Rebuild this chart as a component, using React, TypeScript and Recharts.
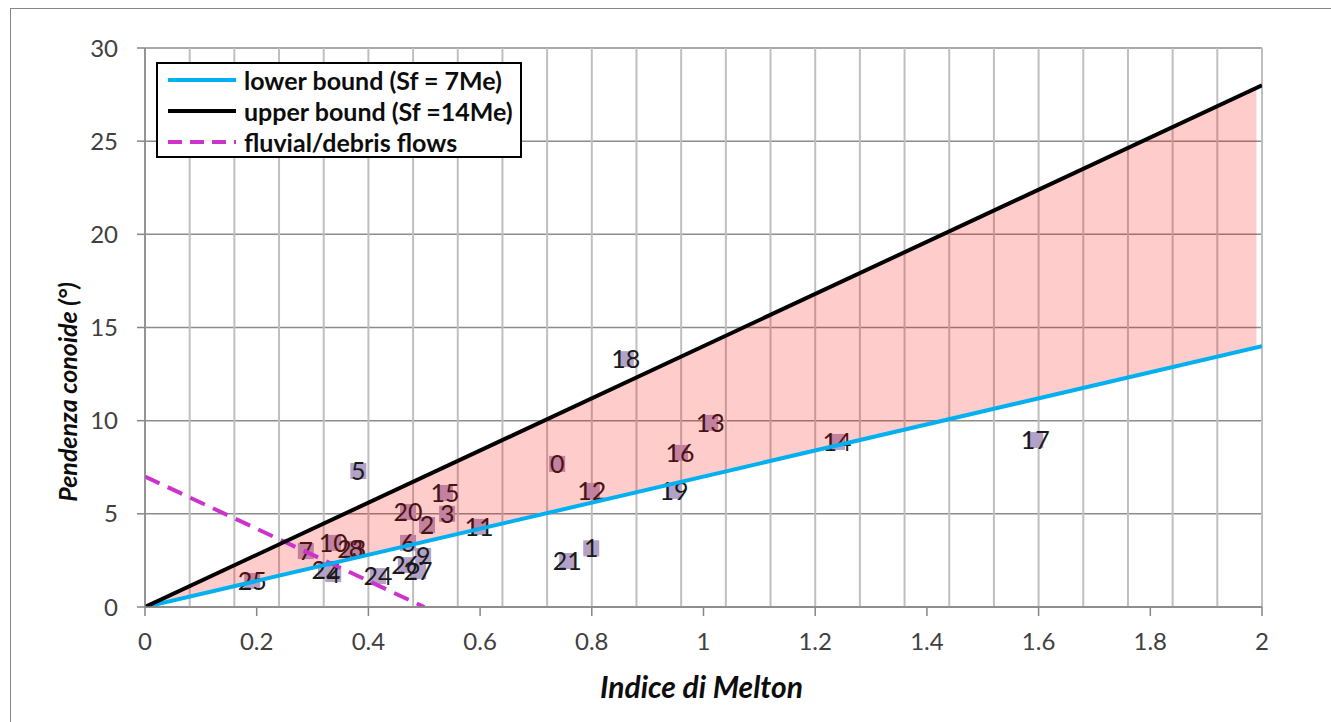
import React from "react";
import {
  ComposedChart,
  Area,
  Line,
  Scatter,
  XAxis,
  YAxis,
  CartesianGrid,
  Legend,
  LabelList,
  Label,
} from "recharts";

// Melton index (x) and fan slope in degrees (y) for each catchment
const siteIds = ["0", "1", "2", "3", "4", "5", "6", "7", "8", "9", "10", "11", "12", "13", "14", "15", "16", "17", "18", "19", "20", "21", "22", "23", "24", "25", "26", "27"];
const meltonIndex = [0.738, 0.799, 0.505, 0.541, 0.337, 0.382, 0.471, 0.288, 0.378, 0.498, 0.337, 0.598, 0.8, 1.012, 1.239, 0.537, 0.958, 1.594, 0.861, 0.947, 0.471, 0.756, 0.324, 0.37, 0.417, 0.192, 0.467, 0.489];
const fanSlope = [7.68, 3.15, 4.4, 5.0, 1.77, 7.3, 3.44, 3.0, 3.1, 2.74, 3.44, 4.3, 6.23, 9.88, 8.86, 6.12, 8.27, 8.96, 13.3, 6.23, 5.1, 2.47, 1.99, 3.1, 1.66, 1.4, 2.25, 1.93];

// bound lines (Sf = 7Me and Sf = 14Me) and the fluvial / debris flow divide
const boundX = [0, 2];
const lowerBound = [0, 14];
const upperBound = [0, 28];
const fluvialX = [0, 0.5];
const fluvialY = [7, 0];

// shaded band between the two bounds
const bandX = [0, 1.99];
const bandLow = [0, 13.93];
const bandHigh = [0, 27.86];

const xTicks = [0, 0.2, 0.4, 0.6, 0.8, 1, 1.2, 1.4, 1.6, 1.8, 2];
const yTicks = [0, 5, 10, 15, 20, 25, 30];
const minorStep = 0.04;

const points = siteIds.map((id, i) => ({ id, x: meltonIndex[i], y: fanSlope[i] }));
const lowerData = boundX.map((x, i) => ({ x, y: lowerBound[i] }));
const upperData = boundX.map((x, i) => ({ x, y: upperBound[i] }));
const fluvialData = fluvialX.map((x, i) => ({ x, y: fluvialY[i] }));
const bandData = bandX.map((x, i) => ({ x, band: [bandLow[i], bandHigh[i]] }));
const minorGrid = Array.from({ length: 51 }, (_, i) => +(i * minorStep).toFixed(2));

const FONT = "Lato, 'Open Sans', sans-serif";

const legendItems = [
  { label: "lower bound (Sf = 7Me)", color: "#00b0f0", dash: undefined },
  { label: "upper bound (Sf =14Me)", color: "#000000", dash: undefined },
  { label: "fluvial/debris flows", color: "#cc33cc", dash: "14 8" },
];

function renderLegend() {
  return (
    <div
      style={{
        width: 366,
        height: 96,
        boxSizing: "border-box",
        border: "2px solid #000",
        background: "#fff",
        padding: "0 0 0 8px",
        fontFamily: FONT,
      }}
    >
      {legendItems.map((item) => (
        <div key={item.label} style={{ display: "flex", alignItems: "center", height: 31 }}>
          <svg width={72} height={8} style={{ marginRight: 6, flexShrink: 0 }}>
            <line x1={2} y1={4} x2={70} y2={4} stroke={item.color} strokeWidth={4} strokeDasharray={item.dash} />
          </svg>
          <span style={{ fontSize: 25, fontWeight: 700, color: "#0d0d0d", whiteSpace: "nowrap" }}>{item.label}</span>
        </div>
      ))}
    </div>
  );
}

const SquareMarker = (props: any) => {
  const { cx, cy } = props;
  if (cx == null || cy == null) return null;
  return <rect x={cx - 8} y={cy - 8} width={16} height={16} fill="#b3a2c7" />;
};

const YTitle = (props: any) => {
  const vb = props.viewBox || { x: 0, y: 48, width: 145, height: 559 };
  const x = vb.x + 67;
  const y = vb.y + 344;
  return (
    <text
      x={x}
      y={y}
      transform={`rotate(-90, ${x}, ${y})`}
      textAnchor="middle"
      dominantBaseline="central"
      fontFamily={FONT}
      fontSize={25}
      fontWeight={700}
      fontStyle="italic"
      fill="#0d0d0d"
    >
      Pendenza conoide (°)
    </text>
  );
};

const XTitle = (props: any) => {
  const vb = props.viewBox || { x: 145, y: 607, width: 1117, height: 115 };
  return (
    <text
      x={vb.x + vb.width / 2 - 2}
      y={vb.y + 91}
      textAnchor="middle"
      fontFamily={FONT}
      fontSize={30}
      fontWeight={700}
      fontStyle="italic"
      fill="#0d0d0d"
    >
      Indice di Melton
    </text>
  );
};

export default function App() {
  return (
    <>
      <div
        style={{
          position: "fixed",
          left: 10,
          top: 8,
          width: 1330,
          height: 720,
          borderLeft: "1.5px solid #868686",
          borderTop: "1.5px solid #868686",
          background: "#fff",
        }}
      />
      <div style={{ position: "fixed", left: 0, top: 0, width: 1331, height: 722 }}>
        <ComposedChart width={1331} height={722} margin={{ top: 48, right: 69, bottom: 0, left: 0 }}>
          <CartesianGrid vertical={false} stroke="#8c8c8c" strokeWidth={1.5} />
          <CartesianGrid horizontal={false} verticalValues={minorGrid} stroke="#bfbfbf" strokeWidth={2} />
          <XAxis
            dataKey="x"
            type="number"
            domain={[0, 2]}
            ticks={xTicks}
            allowDataOverflow
            height={115}
            stroke="#868686"
            strokeWidth={1.5}
            tickSize={9}
            tickMargin={17}
            tick={{ fill: "#404040", fontSize: 24, fontFamily: FONT }}
            label={<Label content={<XTitle />} />}
          />
          <YAxis
            type="number"
            domain={[0, 30]}
            ticks={yTicks}
            allowDataOverflow
            width={145}
            stroke="#868686"
            strokeWidth={1.5}
            tickSize={8}
            tickMargin={19}
            tick={{ fill: "#404040", fontSize: 24, fontFamily: FONT }}
            label={<Label content={<YTitle />} />}
          />
          <Scatter
            name="sites"
            data={points}
            dataKey="y"
            shape={<SquareMarker />}
            isAnimationActive={false}
            legendType="none"
            zIndex={50}
          >
            <LabelList
              dataKey="id"
              position="center"
              fill="#1a1a1a"
              fontSize={25}
              fontFamily={FONT}
              zIndex={60}
            />
          </Scatter>
          <Area
            data={bandData}
            dataKey="band"
            type="linear"
            fill="#ff0000"
            fillOpacity={0.2}
            stroke="none"
            isAnimationActive={false}
            legendType="none"
            zIndex={150}
          />
          <Line
            data={fluvialData}
            dataKey="y"
            type="linear"
            stroke="#cc33cc"
            strokeWidth={4}
            strokeDasharray="16 9"
            dot={false}
            isAnimationActive={false}
            zIndex={400}
          />
          <Line
            data={lowerData}
            dataKey="y"
            type="linear"
            stroke="#00b0f0"
            strokeWidth={4}
            dot={false}
            isAnimationActive={false}
            zIndex={400}
          />
          <Line
            data={upperData}
            dataKey="y"
            type="linear"
            stroke="#000000"
            strokeWidth={4}
            dot={false}
            isAnimationActive={false}
            zIndex={400}
          />
          <Legend
            layout="vertical"
            align="center"
            verticalAlign="middle"
            content={renderLegend}
            wrapperStyle={{ top: 62, left: 156, width: 366, height: 96 }}
          />
        </ComposedChart>
      </div>
    </>
  );
}
